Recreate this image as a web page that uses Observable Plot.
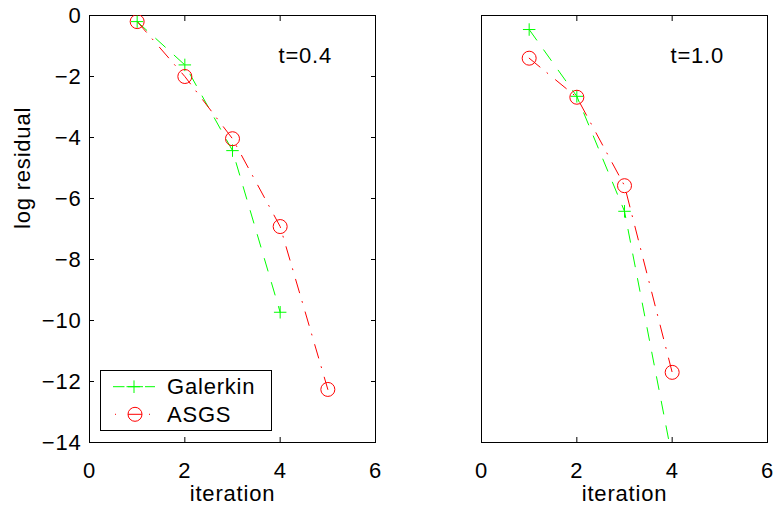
<!DOCTYPE html>
<html>
<head>
<meta charset="utf-8">
<script src="https://cdn.jsdelivr.net/npm/d3@7"></script>
<script src="https://cdn.jsdelivr.net/npm/@observablehq/plot@0.6"></script>
<style>
  html, body { margin: 0; padding: 0; background: white; }
  #wrap { position: relative; width: 773px; height: 505px; overflow: hidden; display: flex; font-family: "Liberation Sans", Arial, Helvetica, sans-serif; }
  #legend { position: absolute; left: 100px; top: 370px; width: 170px; height: 59px; border: 1px solid black; background: white; }
</style>
</head>
<body>
<div id="wrap"></div>
<script>
// ---- data ----
const iterations = [1, 2, 3, 4, 5];
const galerkinT04 = [-0.2, -1.62, -4.43, -9.73];
const asgsT04 = [-0.2, -2.0, -4.04, -6.92, -12.26];
const galerkinT10 = [-0.46, -2.65, -6.42, -14.5];
const asgsT10 = [-1.4, -2.68, -5.58, -11.7];
const xTicks = [0, 2, 4, 6];
const yTicks = [0, -2, -4, -6, -8, -10, -12, -14];
const seriesNames = ["Galerkin", "ASGS"];
const panelTitles = ["t=0.4", "t=1.0"];
const xLabel = "iteration";
const yLabel = "log residual";

const GREEN = "#00ff00", RED = "#ff0000";
const galDash = "13,12", asgsDash = "14,9,1,10";
const FONT = "'Liberation Sans', Arial, Helvetica, sans-serif";
const FS = 22;
const LS = "0.8px";
const fmt = d3.format("d");

function rows(vals) { return vals.map((v, i) => ({x: iterations[i], y: v})); }

function panel({gal, asgs, title, width, marginLeft, marginRight, showY}) {
  const marks = [
    Plot.frame({stroke: "black", strokeWidth: 1}),
    Plot.axisX({ticks: xTicks, anchor: "bottom", tickSize: -5, tickPadding: 25, tickFormat: fmt, label: null}),
    Plot.axisX({ticks: xTicks, anchor: "top", tickSize: -5, tickFormat: () => "", label: null}),
    Plot.text([xLabel], {frameAnchor: "bottom", dy: 51, text: d => d, fontSize: FS, lineAnchor: "middle"}),
    Plot.text([title], {frameAnchor: "top-left", dx: 189, dy: 32, text: d => d, textAnchor: "start", fontSize: FS}),
    Plot.line(rows(gal), {x: "x", y: "y", stroke: GREEN, strokeWidth: 1, strokeDasharray: galDash, clip: true}),
    Plot.line(rows(asgs), {x: "x", y: "y", stroke: RED, strokeWidth: 1, strokeDasharray: asgsDash, clip: true}),
    Plot.dot(rows(gal), {x: "x", y: "y", symbol: "plus", r: 4.1, stroke: GREEN, strokeWidth: 1, clip: true}),
    Plot.dot(rows(asgs), {x: "x", y: "y", symbol: "circle", r: 7, stroke: RED, fill: "none", strokeWidth: 1, clip: true})
  ];
  if (showY) {
    marks.push(
      Plot.axisY({ticks: yTicks, anchor: "left", tickSize: -5, tickPadding: 13, tickFormat: fmt, label: null}),
      Plot.axisY({ticks: yTicks, anchor: "right", tickSize: -5, tickFormat: () => "", label: null}),
      Plot.text([yLabel], {frameAnchor: "left", dx: -67, rotate: -90, text: d => d, fontSize: FS})
    );
  }
  return Plot.plot({
    width, height: 505,
    marginLeft, marginRight, marginTop: 15, marginBottom: 63,
    x: {domain: [0, 6]},
    y: showY ? {domain: [-14, 0]} : {domain: [-14, 0], axis: null},
    style: {fontFamily: FONT, fontSize: FS + "px", letterSpacing: LS, color: "black", background: "white", overflow: "visible"},
    marks
  });
}

const wrap = document.getElementById("wrap");
wrap.appendChild(panel({gal: galerkinT04, asgs: asgsT04, title: panelTitles[0], width: 390, marginLeft: 89, marginRight: 15, showY: true}));
wrap.appendChild(panel({gal: galerkinT10, asgs: asgsT10, title: panelTitles[1], width: 383, marginLeft: 91, marginRight: 6, showY: false}));

// legend
const legend = document.createElement("div");
legend.id = "legend";
const lsvg = d3.create("svg").attr("width", 170).attr("height", 59);
const entries = [
  {name: seriesNames[0], color: GREEN},
  {name: seriesNames[1], color: RED}
];
entries.forEach((e, i) => {
  const cy = i === 0 ? 15.7 : 43.3;
  const g = lsvg.append("g");
  if (i === 0) {
    g.append("line").attr("x1", 12).attr("x2", 54).attr("y1", cy).attr("y2", cy)
      .attr("stroke", e.color).attr("stroke-width", 1).attr("stroke-dasharray", "11.5,2,16.5,2,10");
    g.append("path").attr("d", `M27,${cy}h12M33,${cy - 6.3}v12.6`).attr("stroke", e.color).attr("fill", "none");
  } else {
    g.append("line").attr("x1", 14).attr("x2", 50).attr("y1", cy).attr("y2", cy)
      .attr("stroke", e.color).attr("stroke-width", 1).attr("stroke-dasharray", "1,12,14,7,1");
    g.append("circle").attr("cx", 34).attr("cy", cy).attr("r", 7).attr("stroke", e.color).attr("fill", "none");
  }
  g.append("text").attr("x", 66).attr("y", cy).attr("dy", "0.35em").attr("font-size", FS)
    .attr("letter-spacing", LS).attr("font-family", FONT).attr("fill", "black").text(e.name);
});
legend.appendChild(lsvg.node());
wrap.appendChild(legend);
</script>
</body>
</html>
